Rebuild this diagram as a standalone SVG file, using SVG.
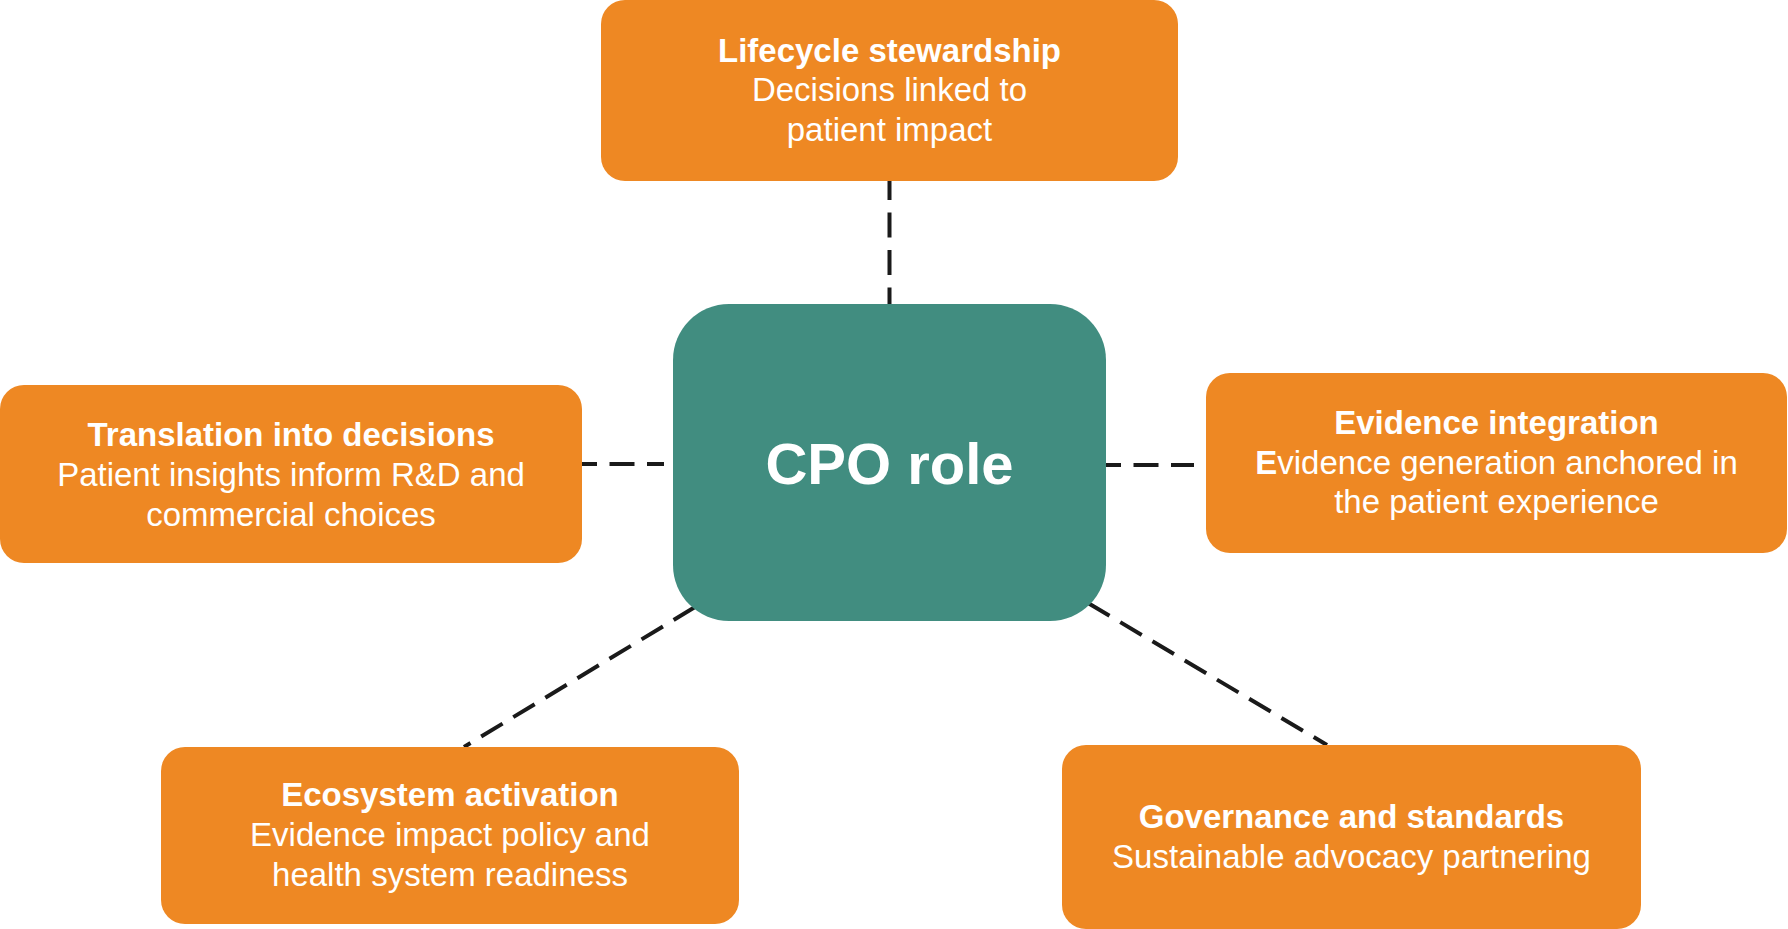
<svg xmlns="http://www.w3.org/2000/svg" width="1788" height="929" viewBox="0 0 1788 929">
<style>
.box{fill:#EE8823}
.core{fill:#418D80}
.t{font-family:"Liberation Sans",Arial,sans-serif;fill:#fff;text-anchor:middle;font-size:33px}
.b{font-weight:bold}
.conn{stroke:#1a1a1a;stroke-width:4;stroke-dasharray:25 12.5;fill:none}
</style>
<rect width="1788" height="929" fill="#fff"/>
<g id="connectors">
<line class="conn" x1="889.5" y1="181" x2="889.5" y2="305" stroke-dashoffset="6"/>
<line class="conn" x1="582" y1="464" x2="664" y2="464" stroke-dashoffset="10"/>
<line class="conn" x1="1106" y1="465" x2="1194" y2="465" stroke-dashoffset="10"/>
<line class="conn" x1="695" y1="607" x2="464" y2="747"/>
<line class="conn" x1="1088" y1="603" x2="1327" y2="745"/>
</g>
<g id="cpo">
<rect class="core" x="673" y="304" width="433" height="317" rx="56"/>
<text class="t b" x="889.5" y="484" style="font-size:58px">CPO role</text>
</g>
<g id="lifecycle">
<rect class="box" x="601" y="0" width="577" height="181" rx="24"/>
<text class="t b" x="889.5" y="62">Lifecycle stewardship</text>
<text class="t" x="889.5" y="101">Decisions linked to</text>
<text class="t" x="889.5" y="141">patient impact</text>
</g>
<g id="translation">
<rect class="box" x="0" y="385" width="582" height="178" rx="24"/>
<text class="t b" x="291" y="446">Translation into decisions</text>
<text class="t" x="291" y="486">Patient insights inform R&amp;D and</text>
<text class="t" x="291" y="526">commercial choices</text>
</g>
<g id="evidence">
<rect class="box" x="1206" y="373" width="581" height="180" rx="24"/>
<text class="t b" x="1496.5" y="434">Evidence integration</text>
<text class="t" x="1496.5" y="474"><tspan class="b">E</tspan>vidence generation anchored in</text>
<text class="t" x="1496.5" y="513">the patient experience</text>
</g>
<g id="ecosystem">
<rect class="box" x="161" y="747" width="578" height="177" rx="24"/>
<text class="t b" x="450" y="806">Ecosystem activation</text>
<text class="t" x="450" y="846">Evidence impact policy and</text>
<text class="t" x="450" y="886">health system readiness</text>
</g>
<g id="governance">
<rect class="box" x="1062" y="745" width="579" height="184" rx="24"/>
<text class="t b" x="1351.5" y="828">Governance and standards</text>
<text class="t" x="1351.5" y="868">Sustainable advocacy partnering</text>
</g>
</svg>
